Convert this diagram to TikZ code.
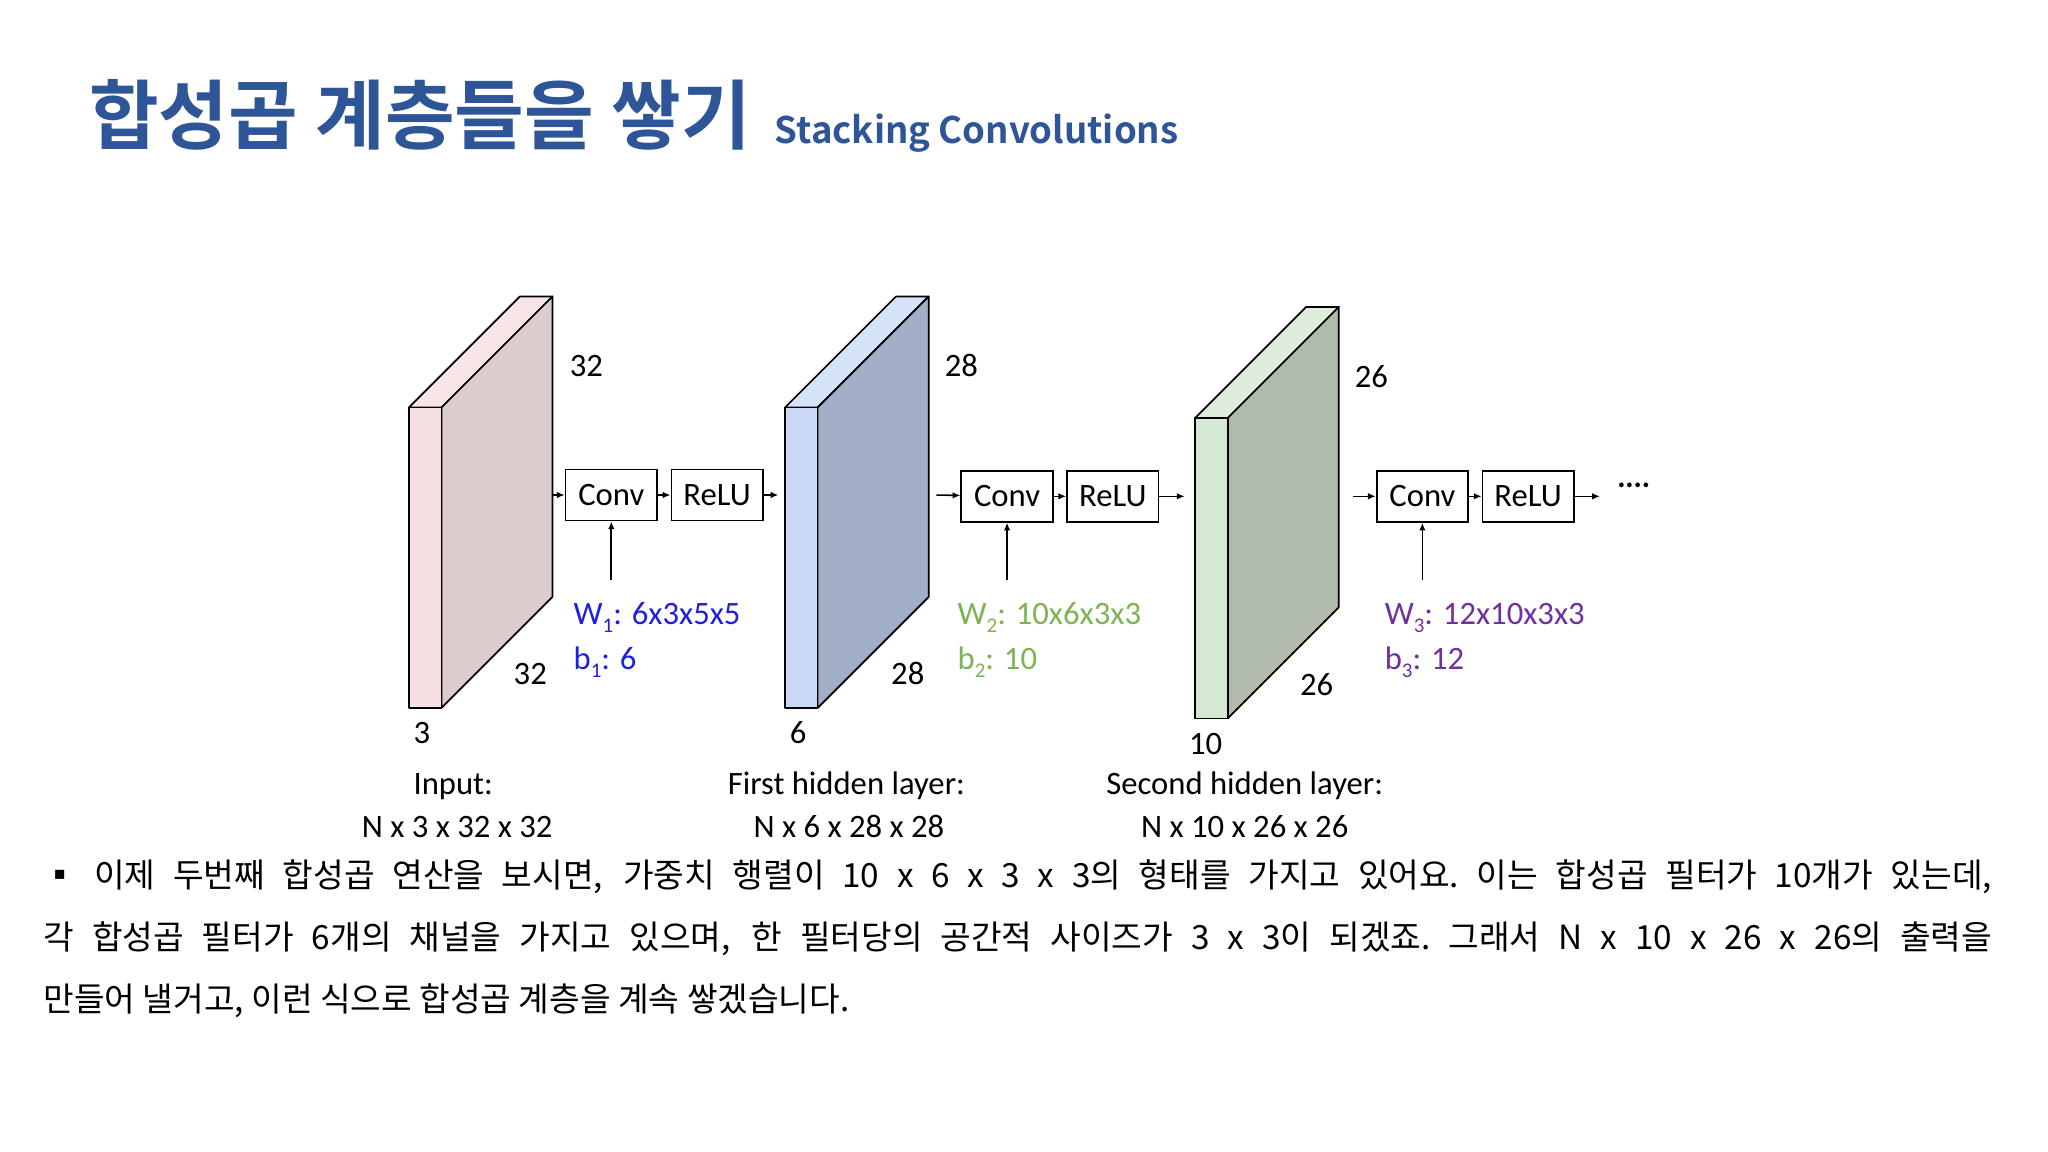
\documentclass[tikz,border=0pt]{standalone}
\usepackage{fontspec}
\setmainfont{Carlito}
\newfontfamily\kr{Noto Sans CJK KR}
\newfontfamily\krb{Noto Sans CJK KR Bold}
\usetikzlibrary{arrows.meta}
\definecolor{titleblue}{HTML}{2E5597}
\definecolor{wblue}{HTML}{1F1FE0}
\definecolor{wgreen}{HTML}{7DB352}
\definecolor{wpurple}{HTML}{7030A0}
\definecolor{pf}{HTML}{F6E0E2}\definecolor{ps}{HTML}{DCCCCC}\definecolor{pt}{HTML}{F8E6E7}
\definecolor{bf}{HTML}{C9D9F5}\definecolor{bs}{HTML}{A3AFC8}\definecolor{bt}{HTML}{D6E2F7}
\definecolor{gf}{HTML}{D5E8D3}\definecolor{gs}{HTML}{B0BBAC}\definecolor{gt}{HTML}{DFEEDC}
\tikzset{
 opbox/.style={draw,line width=1.3pt,minimum width=70pt,minimum height=39pt,inner sep=0pt,font=\fontsize{25}{28}\selectfont},
 lbl/.style={font=\fontsize{25}{28}\selectfont,inner sep=0pt},
 arr/.style={-{Latex[length=6pt,width=5pt]},line width=1.2pt},
 face/.style={draw=black,line width=1.3pt,line join=round},
}
\newcommand{\slab}[5]{% x, ytop, front, side, top
 \path[fill=#5,face] (#1,#2) -- ++(25,0) -- ++(85,-85) -- ++(-25,0) -- cycle;
 \path[fill=#4,face] (#1+25,#2) -- ++(85,-85) -- ++(0,230) -- ++(-85,85) -- cycle;
 \path[fill=#3,face] (#1,#2) rectangle ++(25,230);
}
\newcommand{\sbs}[1]{\raisebox{-0.25em}{\fontsize{16}{16}\selectfont #1}}
\begin{document}
\begin{tikzpicture}[x=1pt,y=-1pt]
\useasboundingbox[fill=white] (0,0) rectangle (1568,882);
\node[anchor=west,inner sep=0pt,text=titleblue,font=\krb\fontsize{58}{62}\selectfont] (title) at (68,88) {합성곱 계층들을 쌓기};
\node[anchor=base west,inner sep=0pt,text=titleblue,font=\krb\fontsize{28}{32}\selectfont] (sub) at (593,110) {Stacking Convolutions};
% slabs
\slab{313}{312}{pf}{ps}{pt}
\slab{601}{312}{bf}{bs}{bt}
\slab{915}{320}{gf}{gs}{gt}
\coordinate (s1) at (423,379); \coordinate (s2i) at (596,379);
\coordinate (s2) at (717,379); \coordinate (s3i) at (907,380);
\coordinate (s3) at (1036,380); \coordinate (e3) at (1225,380);
% boxes
\node[opbox] (c1) at (468,379) {Conv};
\node[opbox] (r1) at (549,379) {ReLU};
\node[opbox] (c2) at (771,380) {Conv};
\node[opbox] (r2) at (852,380) {ReLU};
\node[opbox] (c3) at (1089,380) {Conv};
\node[opbox] (r3) at (1170,380) {ReLU};
\draw[arr] (s1) -- (c1); \draw[arr] (c1) -- (r1); \draw[arr] (r1) -- (s2i);
\draw[arr] (s2) -- (c2); \draw[arr] (c2) -- (r2); \draw[arr] (r2) -- (s3i);
\draw[arr] (s3) -- (c3); \draw[arr] (c3) -- (r3); \draw[arr] (r3) -- (e3);
\node[lbl,anchor=west] (dots) at (1238,374) {····};
\coordinate (w1) at (468,444); \coordinate (w2) at (771,444); \coordinate (w3) at (1089,444);
\draw[arr] (w1) -- (c1); \draw[arr] (w2) -- (c2); \draw[arr] (w3) -- (c3);
% dims
\node[lbl] (a1) at (449,280) {32}; \node[lbl] (a2) at (406,516) {32}; \node[lbl] (a3) at (323,561) {3};
\node[lbl] (b1) at (736,280) {28}; \node[lbl] (b2) at (695,516) {28}; \node[lbl] (b3) at (611,561) {6};
\node[lbl] (d1) at (1050,288) {26}; \node[lbl] (d2) at (1008,524) {26}; \node[lbl] (d3) at (923,570) {10};
% weights
\node[lbl,anchor=west,text=wblue] (W1) at (439,473) {W\sbs{1}: 6x3x5x5};
\node[lbl,anchor=west,text=wblue] (B1) at (439,507) {b\sbs{1}: 6};
\node[lbl,anchor=west,text=wgreen] (W2) at (733,473) {W\sbs{2}: 10x6x3x3};
\node[lbl,anchor=west,text=wgreen] (B2) at (733,507) {b\sbs{2}: 10};
\node[lbl,anchor=west,text=wpurple] (W3) at (1060,473) {W\sbs{3}: 12x10x3x3};
\node[lbl,anchor=west,text=wpurple] (B3) at (1060,507) {b\sbs{3}: 12};
% captions
\node[lbl] (i1) at (347,602) {Input:}; \node[lbl] (i2) at (350,633) {N x 3 x 32 x 32};
\node[lbl] (f1) at (648,602) {First hidden layer:}; \node[lbl] (f2) at (650,633) {N x 6 x 28 x 28};
\node[lbl] (g1) at (953,602) {Second hidden layer:}; \node[lbl] (g2) at (953,633) {N x 10 x 26 x 26};
% body
\node[anchor=north west,inner sep=0pt,text width=1492pt,align=justify,font=\kr\fontsize{25.5}{47.5}\selectfont] (body) at (33,658)
{▪ 이제 두번째 합성곱 연산을 보시면, 가중치 행렬이 10 x 6 x 3 x 3의 형태를 가지고 있어요.\ 이는 합성곱 필터가 10개가 있는데,\linebreak 각 합성곱 필터가 6개의 채널을 가지고 있으며, 한 필터당의 공간적 사이즈가 3 x 3이 되겠죠.\ 그래서 N x 10 x 26 x 26의 출력을\linebreak 만들어 낼거고, 이런 식으로 합성곱 계층을 계속 쌓겠습니다.};
\end{tikzpicture}
\end{document}
